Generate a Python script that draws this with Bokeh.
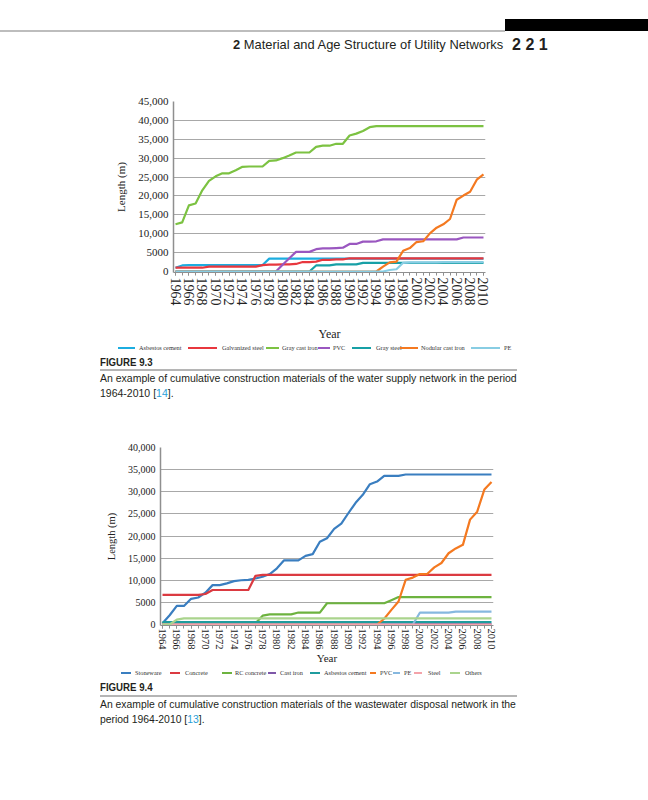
from bokeh.plotting import figure
from bokeh.models import Range1d, FixedTicker, Div, Spacer
from bokeh.layouts import column, row
from bokeh.embed import file_html
from bokeh.resources import INLINE

# ---------------- data ----------------
years = list(range(1964, 2011))
label_years = list(range(1964, 2011, 2))

# Figure 9.3 : water supply network (m)
w_labels = ["Asbestos cement", "Galvanized steel", "Gray cast iron", "PVC",
            "Gray steel", "Nodular cast iron", "PE"]
w_asbestos_cement = [1000, 1600, 1700, 1700, 1700, 1700, 1700, 1700, 1700, 1700,
                     1700, 1700, 1700, 1700, 3400, 3400, 3400, 3400, 3400, 3400,
                     3400, 3400, 3400, 3400, 3400, 3400, 3400, 3400, 3400, 3400,
                     3400, 3400, 3400, 3400, 3400, 3400, 3400, 3400, 3400, 3400,
                     3400, 3400, 3400, 3400, 3400, 3400, 3400]
w_galvanized_steel = [1000, 1000, 1000, 1000, 1000, 1300, 1300, 1300, 1300, 1300,
                      1300, 1300, 1300, 1700, 1800, 1800, 1900, 1900, 2000, 2500,
                      2500, 2600, 3100, 3100, 3200, 3200, 3500, 3500, 3500, 3500,
                      3500, 3500, 3500, 3500, 3500, 3500, 3500, 3500, 3500, 3500,
                      3500, 3500, 3500, 3500, 3500, 3500, 3500]
w_gray_cast_iron = [12500, 13000, 17500, 18000, 21500, 24000, 25200, 26000, 26000, 26800,
                    27700, 27800, 27800, 27800, 29300, 29400, 30000, 30700, 31500, 31500,
                    31500, 33000, 33300, 33300, 33800, 33800, 36000, 36500, 37200, 38200,
                    38500, 38500, 38500, 38500, 38500, 38500, 38500, 38500, 38500, 38500,
                    38500, 38500, 38500, 38500, 38500, 38500, 38500]
w_pvc = [0, 0, 0, 0, 0, 0, 0, 0, 0, 0,
         0, 0, 0, 0, 0, 0, 1800, 3500, 5200, 5200,
         5200, 5900, 6100, 6100, 6200, 6300, 7300, 7300, 7900, 7900,
         8000, 8500, 8500, 8500, 8500, 8500, 8500, 8500, 8500, 8500,
         8500, 8500, 8500, 9000, 9000, 9000, 9000]
w_gray_steel = [0, 0, 0, 0, 0, 0, 0, 0, 0, 0,
                0, 0, 0, 0, 0, 0, 0, 0, 0, 0,
                0, 1600, 1600, 1600, 1900, 1900, 1900, 1900, 2300, 2300,
                2300, 2300, 2300, 2300, 2300, 2300, 2300, 2300, 2300, 2300,
                2300, 2300, 2300, 2300, 2300, 2300, 2300]
w_nodular_cast_iron = [0, 0, 0, 0, 0, 0, 0, 0, 0, 0,
                       0, 0, 0, 0, 0, 0, 0, 0, 0, 0,
                       0, 0, 0, 0, 0, 0, 0, 0, 0, 0,
                       0, 1300, 2400, 2600, 5500, 6200, 7800, 8000, 10100, 11600,
                       12500, 13900, 19000, 20100, 21100, 24300, 25700]
w_pe = [0, 0, 0, 0, 0, 0, 0, 0, 0, 0,
        0, 0, 0, 0, 0, 0, 0, 0, 0, 0,
        0, 0, 0, 0, 0, 0, 0, 0, 0, 0,
        0, 0, 400, 600, 2300, 2400, 2400, 2400, 2400, 2400,
        2500, 2500, 2500, 2500, 2500, 2500, 2500]
w_colors = ["#1CADE0", "#E8373E", "#7CC242", "#9A57C0", "#17A0A6", "#F47920", "#88CDE3"]
w_y_ticks = [0, 5000, 10000, 15000, 20000, 25000, 30000, 35000, 40000, 45000]

# Figure 9.4 : wastewater disposal network (m)
s_labels = ["Stoneware", "Concrete", "RC concrete", "Cast iron", "Asbestos cement",
            "PVC", "PE", "Steel", "Others"]
s_stoneware = [300, 2100, 4200, 4200, 5800, 6100, 7200, 8900, 8900, 9300,
               9800, 10000, 10100, 10400, 10800, 11400, 12700, 14500, 14500, 14500,
               15500, 15900, 18700, 19500, 21600, 22800, 25200, 27500, 29300, 31700,
               32300, 33600, 33600, 33600, 33900, 33900, 33900, 33900, 33900, 33900,
               33900, 33900, 33900, 33900, 33900, 33900, 33900]
s_concrete = [6700, 6700, 6700, 6700, 6700, 6700, 6900, 7800, 7800, 7800,
              7800, 7800, 7800, 11000, 11200, 11200, 11200, 11200, 11200, 11200,
              11200, 11200, 11200, 11200, 11200, 11200, 11200, 11200, 11200, 11200,
              11200, 11200, 11200, 11200, 11200, 11200, 11200, 11200, 11200, 11200,
              11200, 11200, 11200, 11200, 11200, 11200, 11200]
s_rc_concrete = [300, 300, 300, 300, 300, 300, 300, 300, 300, 300,
                 300, 300, 300, 300, 2000, 2300, 2300, 2300, 2300, 2700,
                 2700, 2700, 2700, 4800, 4800, 4800, 4800, 4800, 4800, 4800,
                 4800, 4800, 5500, 6200, 6200, 6200, 6200, 6200, 6200, 6200,
                 6200, 6200, 6200, 6200, 6200, 6200, 6200]
s_cast_iron = [100, 100, 100, 100, 100, 100, 100, 100, 100, 100,
               100, 100, 100, 100, 100, 100, 100, 100, 100, 100,
               100, 100, 100, 100, 100, 100, 100, 100, 100, 100,
               100, 100, 100, 100, 100, 100, 100, 100, 100, 100,
               100, 100, 100, 100, 100, 100, 100]
s_asbestos_cement = [550, 550, 550, 550, 550, 550, 550, 550, 550, 550,
                     550, 550, 550, 550, 550, 550, 550, 550, 550, 550,
                     550, 550, 550, 550, 550, 550, 550, 550, 550, 550,
                     550, 550, 550, 550, 550, 550, 550, 550, 550, 550,
                     550, 550, 550, 550, 550, 550, 550]
s_pvc = [0, 0, 0, 0, 0, 0, 0, 0, 0, 0,
         0, 0, 0, 0, 0, 0, 0, 0, 0, 0,
         0, 0, 0, 0, 0, 0, 0, 0, 0, 0,
         0, 1300, 3300, 5200, 10100, 10600, 11400, 11400, 12900, 13900,
         16100, 17200, 18000, 23700, 25500, 30500, 32200]
s_pe = [0, 0, 0, 0, 0, 0, 0, 0, 0, 0,
        0, 0, 0, 0, 0, 0, 0, 0, 0, 0,
        0, 0, 0, 0, 0, 0, 0, 0, 0, 0,
        0, 0, 0, 0, 0, 0, 2700, 2700, 2700, 2700,
        2700, 2900, 2900, 2900, 2900, 2900, 2900]
s_steel = [0, 0, 0, 0, 0, 0, 0, 0, 0, 0,
           0, 0, 0, 0, 0, 0, 0, 0, 0, 0,
           0, 0, 0, 0, 0, 0, 0, 0, 0, 0,
           0, 0, 0, 0, 0, 0, 0, 0, 0, 0,
           0, 0, 0, 0, 0, 0, 0]
s_others = [0, 0, 1100, 1400, 1400, 1400, 1400, 1400, 1400, 1400,
            1400, 1400, 1400, 1400, 1400, 1400, 1400, 1400, 1400, 1400,
            1400, 1400, 1400, 1400, 1400, 1400, 1400, 1400, 1400, 1400,
            1400, 1400, 1400, 1400, 1400, 1400, 1400, 1400, 1400, 1400,
            1400, 1400, 1400, 1400, 1400, 1400, 1400]
s_colors = ["#3A7EC0", "#DB3A41", "#6DB33F", "#7E57A8", "#1F9C9E", "#F47920",
            "#86B8DF", "#F4A3AA", "#AAD48D"]
s_y_ticks = [0, 5000, 10000, 15000, 20000, 25000, 30000, 35000, 40000]

SERIF = "Liberation Serif"
GRID = "#a8a8a8"
AXIS = "#8f8f8f"


def tick_text(v):
    return "0" if v == 0 else ("5000" if v < 10000 else f"{v:,}")


def make_chart(series, colors, y_ticks, frame_w, frame_h, zero_px, b_left, b_right,
               b_top, b_bottom, x_pad_l, x_pad_r, ytick_size, ylab_size, ylab_standoff,
               xtick_size, xtick_standoff, xlab_size, xlab_standoff):
    y_max = y_ticks[-1]
    per_px = y_max / (frame_h - zero_px)
    p = figure(output_backend="svg", toolbar_location=None, title=None,
               frame_width=frame_w, frame_height=frame_h,
               min_border_left=b_left, min_border_right=b_right,
               min_border_top=b_top, min_border_bottom=b_bottom,
               x_range=Range1d(years[0] - x_pad_l, years[-1] + x_pad_r),
               y_range=Range1d(-zero_px * per_px, y_max))
    p.outline_line_color = None
    p.background_fill_color = "white"
    p.border_fill_color = "white"
    p.xgrid.visible = False
    p.ygrid.ticker = FixedTicker(ticks=y_ticks[1:])
    p.ygrid.grid_line_color = GRID
    p.ygrid.grid_line_width = 1

    for vals, col in zip(series, colors):
        p.line(years, vals, line_color=col, line_width=2.2, line_join="round")

    xa = p.xaxis[0]
    xa.ticker = FixedTicker(ticks=label_years, minor_ticks=years)
    xa.major_label_orientation = "vertical"
    xa.major_label_text_font = SERIF
    xa.major_label_text_font_size = xtick_size
    xa.major_label_text_color = "#222222"
    xa.major_label_standoff = xtick_standoff
    xa.major_tick_in = 0
    xa.major_tick_out = 3
    xa.minor_tick_in = 0
    xa.minor_tick_out = 3
    xa.major_tick_line_color = AXIS
    xa.minor_tick_line_color = AXIS
    xa.axis_line_color = AXIS
    xa.axis_line_width = 1.2
    xa.axis_label = "Year"
    xa.axis_label_text_font = SERIF
    xa.axis_label_text_font_style = "normal"
    xa.axis_label_text_font_size = xlab_size
    xa.axis_label_text_color = "#222222"
    xa.axis_label_standoff = xlab_standoff

    ya = p.yaxis[0]
    ya.ticker = FixedTicker(ticks=y_ticks)
    ya.major_label_overrides = {v: tick_text(v) for v in y_ticks}
    ya.major_label_text_font = SERIF
    ya.major_label_text_font_size = ytick_size
    ya.major_label_text_color = "#222222"
    ya.major_label_standoff = 5
    ya.major_tick_in = 0
    ya.major_tick_out = 0
    ya.minor_tick_line_color = None
    ya.axis_line_color = AXIS
    ya.axis_line_width = 1.5
    ya.axis_label = "Length (m)"
    ya.axis_label_text_font = SERIF
    ya.axis_label_text_font_style = "normal"
    ya.axis_label_text_font_size = ylab_size
    ya.axis_label_text_color = "#222222"
    ya.axis_label_standoff = ylab_standoff
    return p


fig1 = make_chart(
    [w_asbestos_cement, w_galvanized_steel, w_gray_cast_iron, w_pvc, w_gray_steel,
     w_nodular_cast_iron, w_pe], w_colors, w_y_ticks,
    frame_w=312, frame_h=171, zero_px=1, b_left=150, b_right=163, b_top=11, b_bottom=72,
    x_pad_l=0.3, x_pad_r=0.3, ytick_size="11px", ylab_size="11px", ylab_standoff=8,
    xtick_size="14px", xtick_standoff=2, xlab_size="12px", xlab_standoff=18)

fig2 = make_chart(
    [s_stoneware, s_concrete, s_rc_concrete, s_cast_iron, s_asbestos_cement, s_pvc, s_pe,
     s_steel, s_others], s_colors, s_y_ticks,
    frame_w=333, frame_h=178, zero_px=1, b_left=150, b_right=155, b_top=20, b_bottom=42,
    x_pad_l=0.28, x_pad_r=0.28, ytick_size="10px", ylab_size="10.5px", ylab_standoff=8,
    xtick_size="10.5px", xtick_standoff=0, xlab_size="11px", xlab_standoff=-1)


def legend_html(labels, colors, line_x0, line_x1, text_x, y_mid, font_px):
    parts = []
    for lab, col, a, b, t in zip(labels, colors, line_x0, line_x1, text_x):
        parts.append(f'<div style="position:absolute;left:{a}px;top:{int(round(y_mid - 1))}px;'
                     f'width:{b - a}px;height:2px;background-color:{col};"></div>')
        parts.append(f'<div style="position:absolute;left:{t}px;top:{y_mid - font_px * 0.62:.1f}px;'
                     f'font-family:\'Liberation Serif\',serif;font-size:{font_px}px;'
                     f'line-height:{font_px * 1.2:.1f}px;white-space:nowrap;color:#333;">{lab}</div>')
    return "\n".join(parts)


SANS_CSS = "font-family:'Liberation Sans',Arial,sans-serif;color:#231f20;"

header = Div(width=648, height=90, margin=0, text=f"""
<div style="position:relative;width:648px;height:90px;{SANS_CSS}">
  <div style="position:absolute;left:505px;top:19px;width:143px;height:12px;background:#000;"></div>
  <div style="position:absolute;left:0px;top:30px;width:505px;height:1.5px;background:#bdbdbd;"></div>
  <div style="position:absolute;left:233px;top:37px;font-size:12.9px;line-height:16px;white-space:nowrap;">
    <b>2</b>&nbsp;Material and Age Structure of Utility Networks</div>
  <div style="position:absolute;left:512px;top:36px;font-size:16px;line-height:18px;font-weight:bold;letter-spacing:4.5px;white-space:nowrap;">221</div>
</div>""")

leg1 = legend_html(w_labels, w_colors,
                   [118, 188, 266, 318, 352, 400, 471],
                   [135, 217, 279, 330, 371, 418, 500],
                   [139, 222, 282, 333, 376, 421, 504], 4, 6.3)
cap1 = Div(width=648, height=83, margin=0, text=f"""
<div style="position:relative;width:648px;height:83px;{SANS_CSS}">
{leg1}
  <div style="position:absolute;left:100px;top:11.5px;font-size:10.5px;line-height:13px;font-weight:bold;transform:scaleX(0.92);transform-origin:left;white-space:nowrap;">FIGURE 9.3</div>
  <div style="position:absolute;left:100px;top:25px;width:417px;height:2px;background:#b5b5b5;"></div>
  <div style="position:absolute;left:100px;top:27px;font-size:10.5px;line-height:15px;white-space:nowrap;">An example of cumulative construction materials of the water supply network in the period<br>1964-2010 [<span style="color:#2a9fd8;">14</span>].</div>
</div>""")

leg2 = legend_html(s_labels, s_colors,
                   [121, 170, 222, 268, 310, 370, 393, 414, 450],
                   [131, 180, 232, 276, 320, 376, 400, 422, 460],
                   [135, 185, 235, 280, 324, 380, 404, 428, 465], 6, 6.3)
cap2 = Div(width=648, height=100, margin=0, text=f"""
<div style="position:relative;width:648px;height:100px;{SANS_CSS}">
{leg2}
  <div style="position:absolute;left:100px;top:13.5px;font-size:10.5px;line-height:13px;font-weight:bold;transform:scaleX(0.92);transform-origin:left;white-space:nowrap;">FIGURE 9.4</div>
  <div style="position:absolute;left:100px;top:28px;width:417px;height:2px;background:#b5b5b5;"></div>
  <div style="position:absolute;left:100px;top:30px;font-size:10.4px;line-height:15px;white-space:nowrap;">An example of cumulative construction materials of the wastewater disposal network in the<br>period 1964-2010 [<span style="color:#2a9fd8;">13</span>].</div>
</div>""")

page = column(header,
              row(Spacer(width=23, height=10, margin=0), fig1, spacing=0),
              cap1,
              row(Spacer(width=10, height=10, margin=0), fig2, spacing=0),
              cap2, spacing=0)
open("out.html", "w").write(file_html(page, INLINE))
